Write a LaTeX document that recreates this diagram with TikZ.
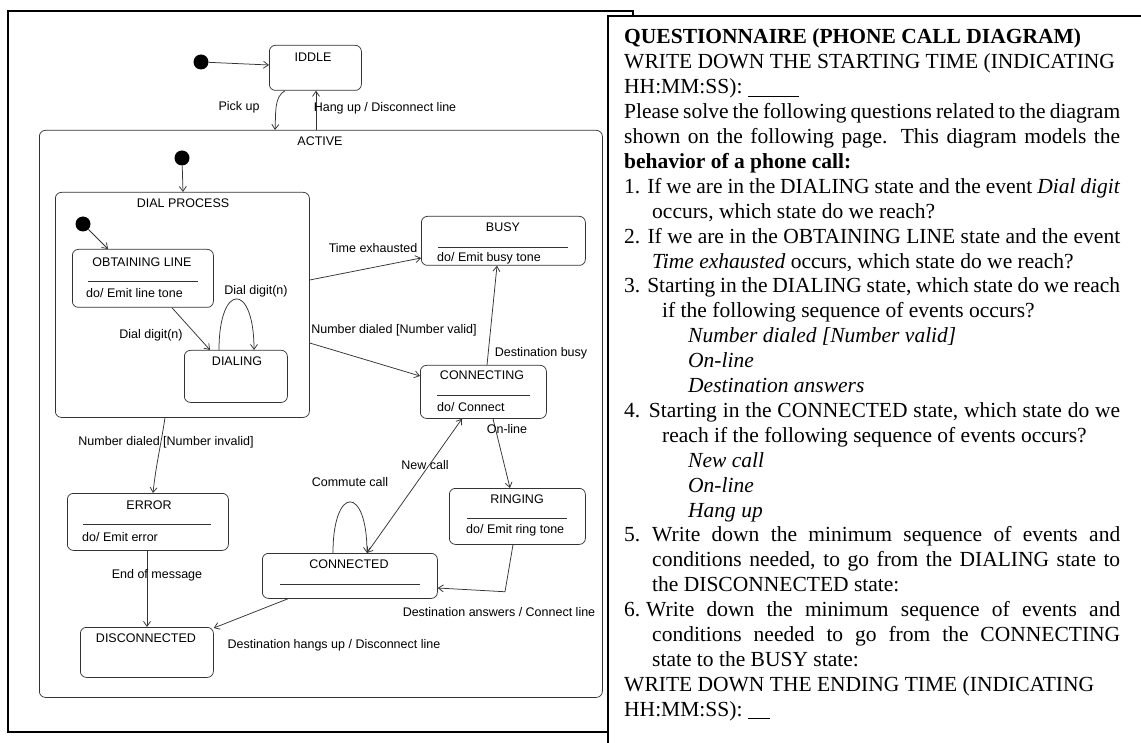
\documentclass[tikz,border=0pt]{standalone}
\usepackage{fontspec}
\setmainfont{Liberation Serif}
\newfontfamily\dgfont{Liberation Sans}
\usetikzlibrary{arrows.meta,calc}
\definecolor{linec}{HTML}{333333}
\begin{document}
\begin{tikzpicture}[x=1pt,y=-1pt,
  stbox/.style={draw=linec, line width=0.75pt, rounded corners=6pt, anchor=north west, inner sep=0pt},
  ttl/.style={font=\dgfont\fontsize{12.5}{14}\selectfont, inner sep=0pt, text=black},
  body/.style={ttl, anchor=west},
  lbl/.style={ttl},
  dot/.style={circle, fill=black, inner sep=0pt, minimum size=15pt},
  sepl/.style={draw=linec, line width=0.75pt},
  conn/.style={draw=linec, line width=0.75pt, -{Straight Barb[length=5pt,width=7pt]}},
  conn2/.style={draw=linec, line width=0.75pt, {Straight Barb[length=5pt,width=7pt]}-{Straight Barb[length=5pt,width=7pt]}},
  frame/.style={draw=black, line width=1.3pt}
]
\useasboundingbox (0,0) rectangle (1141,743);
\fill[white] (0,0) rectangle (1141,743);

% left frame
\draw[frame] (8,11) rectangle (633,732);

% states
\node[stbox, minimum width=92pt, minimum height=45pt] (idle) at (269,45) {};
\node[ttl] (idleT) at (313,57) {IDDLE};

\node[stbox, minimum width=563pt, minimum height=567pt] (active) at (39,130) {};
\node[ttl] (activeT) at (320,141) {ACTIVE};

\node[stbox, minimum width=254pt, minimum height=225pt] (dialproc) at (55,192) {};
\node[ttl] (dialprocT) at (183,203) {DIAL PROCESS};

\node[stbox, minimum width=141pt, minimum height=58pt] (obt) at (72,249) {};
\node[ttl] (obtT) at (142,262) {OBTAINING LINE};
\draw[sepl] (88,281) -- (198,281);
\node[body] (obtB) at (86,293) {do/ Emit line tone};

\node[stbox, minimum width=103pt, minimum height=52pt] (dialing) at (184,350) {};
\node[ttl] (dialingT) at (237,361) {DIALING};

\node[stbox, minimum width=164pt, minimum height=49pt] (busy) at (421,216) {};
\node[ttl] (busyT) at (503,227) {BUSY};
\draw[sepl] (438,247) -- (568,247);
\node[body] (busyB) at (437,258) {do/ Emit busy tone};

\node[stbox, minimum width=126pt, minimum height=53pt] (conning) at (420,365) {};
\node[ttl] (conningT) at (482,375) {CONNECTING};
\draw[sepl] (437,395) -- (530,395);
\node[body] (conningB) at (437,407) {do/ Connect};

\node[stbox, minimum width=136pt, minimum height=56pt] (ringing) at (449,488) {};
\node[ttl] (ringingT) at (517,499) {RINGING};
\draw[sepl] (467,518) -- (567,518);
\node[body] (ringingB) at (466,530) {do/ Emit ring tone};

\node[stbox, minimum width=175pt, minimum height=45pt] (conned) at (262,553) {};
\node[ttl] (connedT) at (349,564) {CONNECTED};
\draw[sepl] (280,584) -- (420,584);

\node[stbox, minimum width=161pt, minimum height=57pt] (error) at (67,493) {};
\node[ttl] (errorT) at (149,505) {ERROR};
\draw[sepl] (83,524) -- (211,524);
\node[body] (errorB) at (82,537) {do/ Emit error};

\node[stbox, minimum width=133pt, minimum height=50pt] (disc) at (80,627) {};
\node[ttl] (discT) at (146,638) {DISCONNECTED};

% initial dots
\node[dot] (d0) at (201,62) {};
\node[dot] (d1) at (182,158) {};
\node[dot] (d2) at (83,224) {};

% connectors
\draw[conn] (d0) -- ($(idle.north west)+(0,20)$);
\draw[conn] ($(idle.south west)+(16,0)$) .. controls (274,97) and (276,112) .. ($(active.north west)+(236,0)$);
\draw[conn] ($(active.north west)+(277,0)$) -- ($(idle.south west)+(47,0)$);
\draw[conn] (d1) -- ($(dialproc.north west)+(128,0)$);
\draw[conn] (d2) -- ($(obt.north west)+(36,0)$);
\draw[conn] ($(obt.south west)+(100,0)$) -- ($(dialing.north west)+(26,0)$);
\draw[conn] ($(dialing.north west)+(35,0)$) .. controls +(0,-68) and +(0,-68) .. ($(dialing.north west)+(70,0)$);
\draw[conn] ($(dialproc.north east)+(0,88)$) -- ($(busy.north west)+(0,42)$);
\draw[conn] ($(dialproc.north east)+(0,151)$) -- ($(conning.north west)+(0,11)$);
\draw[conn] ($(conning.north west)+(67,0)$) -- ($(busy.south west)+(76,0)$);
\draw[conn] ($(conning.south west)+(73,0)$) -- ($(ringing.north west)+(61,0)$);
\draw[conn2] ($(conned.north west)+(105,0)$) -- ($(conning.south west)+(42,0)$);
\draw[conn] ($(conned.north west)+(71,0)$) .. controls +(0,-68) and +(0,-68) .. ($(conned.north west)+(105,0)$);
\draw[conn] ($(ringing.south west)+(64,0)$) -- ++(-8,47) -- ($(conned.north east)+(0,35)$);
\draw[conn] ($(conned.south west)+(26,0)$) -- ($(disc.north east)+(0,1)$);
\draw[conn] ($(dialproc.south west)+(110,0)$) .. controls (160,450) and (156,465) .. ($(error.north west)+(86,0)$);
\draw[conn] ($(error.south west)+(80,0)$) -- ($(disc.north west)+(67,0)$);

% transition labels
\node[lbl] (lPick) at (239,107) {Pick up};
\node[lbl] (lHang) at (385,108) {Hang up / Disconnect line};
\node[lbl] (lTime) at (373,248) {Time exhausted};
\node[lbl] (lValid) at (394,330) {Number dialed [Number valid]};
\node[lbl] (lBusy) at (541,353) {Destination busy};
\node[lbl] (lDig1) at (151,335) {Dial digit(n)};
\node[lbl] (lDig2) at (256,291) {Dial digit(n)};
\node[lbl] (lOn) at (507,429) {On-line};
\node[lbl] (lNew) at (425,465) {New call};
\node[lbl] (lCom) at (350,482) {Commute call};
\node[lbl] (lAns) at (499,612) {Destination answers / Connect line};
\node[lbl] (lHangs) at (334,645) {Destination hangs up / Disconnect line};
\node[lbl] (lInv) at (166,442) {Number dialed [Number invalid]};
\node[lbl] (lEnd) at (157,575) {End of message};

% right panel
\fill[white] (608,16) rectangle (1141,743);
\draw[frame] (1141,16) -- (608,16) -- (608,743);

\node[anchor=base west, inner sep=0pt] (qtext) at (624,44) {\parbox[t]{496pt}{\fontsize{21.5}{24.9}\selectfont\setlength{\parindent}{0pt}%
\textbf{QUESTIONNAIRE (PHONE CALL DIAGRAM)}\\
WRITE DOWN THE STARTING TIME (INDICATING\\
HH:MM:SS): \rule[-3pt]{51pt}{1pt}\\
\makebox[\linewidth][s]{Please solve the following questions related to the diagram}\\
\makebox[\linewidth][s]{shown on the following page. This diagram models the}\\
\textbf{behavior of a phone call:}\\
\makebox[\linewidth][s]{1. If we are in the DIALING state and the event \textit{Dial digit}}\\
\hspace*{28pt}occurs, which state do we reach?\\
\makebox[\linewidth][s]{2. If we are in the OBTAINING LINE state and the event}\\
\hspace*{28pt}\textit{Time exhausted} occurs, which state do we reach?\\
\makebox[\linewidth][s]{3. Starting in the DIALING state, which state do we reach}\\
\hspace*{38pt}if the following sequence of events occurs?\\
\hspace*{64pt}\textit{Number dialed [Number valid]}\\
\hspace*{64pt}\textit{On-line}\\
\hspace*{64pt}\textit{Destination answers}\\
\makebox[\linewidth][s]{4. Starting in the CONNECTED state, which state do we}\\
\hspace*{38pt}reach if the following sequence of events occurs?\\
\hspace*{64pt}\textit{New call}\\
\hspace*{64pt}\textit{On-line}\\
\hspace*{64pt}\textit{Hang up}\\
\makebox[28pt][l]{5.}\makebox[\dimexpr\linewidth-28pt\relax][s]{Write down the minimum sequence of events and}\\
\hspace*{28pt}\makebox[\dimexpr\linewidth-28pt\relax][s]{conditions needed, to go from the DIALING state to}\\
\hspace*{28pt}the DISCONNECTED state:\\
\makebox[22pt][l]{6.}\makebox[\dimexpr\linewidth-22pt\relax][s]{Write down the minimum sequence of events and}\\
\hspace*{28pt}\makebox[\dimexpr\linewidth-28pt\relax][s]{conditions needed to go from the CONNECTING}\\
\hspace*{28pt}state to the BUSY state:\\
WRITE DOWN THE ENDING TIME (INDICATING\\
HH:MM:SS): \rule[-3pt]{22pt}{1pt}}};
\end{tikzpicture}
\end{document}
